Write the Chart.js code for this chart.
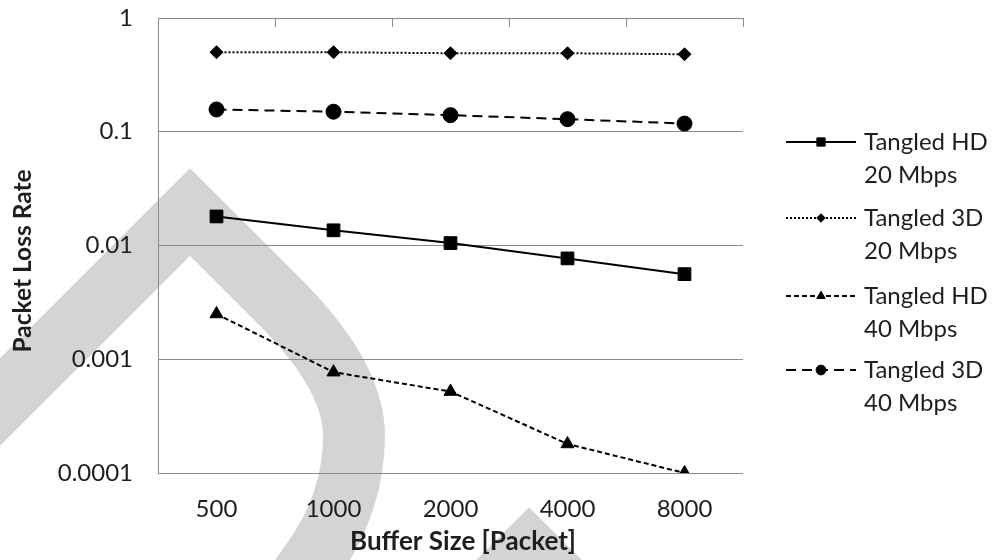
<!DOCTYPE html>
<html>
<head>
<meta charset="utf-8">
<script src="https://cdn.jsdelivr.net/npm/chart.js@4.4.1/dist/chart.umd.min.js"></script>
<style>
  html, body { margin: 0; padding: 0; background: #fff; }
  #chart { display: block; }
</style>
</head>
<body>
<canvas id="chart" width="992" height="560"></canvas>
<script>
// data
const bufferSizes = ['500', '1000', '2000', '4000', '8000'];
const yTickValues = [0.0001, 0.001, 0.01, 0.1, 1];

const hd20 = [0.018, 0.0136, 0.0105, 0.0077, 0.0056];
const threeD20 = [0.50, 0.50, 0.49, 0.49, 0.48];
const hd40 = [0.0025, 0.00077, 0.00052, 0.00018, 0.0001];
const threeD40 = [0.157, 0.150, 0.140, 0.129, 0.118];

const seriesNames = [['Tangled HD', '20 Mbps'], ['Tangled 3D', '20 Mbps'], ['Tangled HD', '40 Mbps'], ['Tangled 3D', '40 Mbps']];
const xTitle = 'Buffer Size [Packet]';
const yTitle = 'Packet Loss Rate';

const FONT = 'Lato, "Open Sans", sans-serif';
const TEXT = '#1e1e1e';
const GRID = '#8a8a8a';

// big grey watermark behind the chart
const watermark = {
    id: 'watermark',
    beforeDraw(chart) {
        const c = chart.ctx;
        c.save();
        c.fillStyle = '#fff';
        c.fillRect(0, 0, chart.width, chart.height);
        c.strokeStyle = '#d4d4d4';
        c.lineWidth = 62;
        c.lineJoin = 'miter';
        c.beginPath();
        c.moveTo(-40, 442);
        c.lineTo(190, 212);
        c.lineTo(280, 302);
        c.bezierCurveTo(322, 344, 354, 390, 354, 436);
        c.bezierCurveTo(354, 482, 338, 525, 313, 560);
        c.lineTo(285, 600);
        c.stroke();
        c.beginPath();
        c.moveTo(420, 660);
        c.lineTo(529, 551);
        c.lineTo(640, 662);
        c.stroke();
        c.restore();
    }
};

// small tick marks on the top axis line, between categories
const topTicks = {
    id: 'topTicks',
    beforeDatasetsDraw(chart) {
        const x = chart.scales.x;
        const top = chart.chartArea.top;
        const band = (x.right - x.left) / bufferSizes.length;
        const c = chart.ctx;
        c.save();
        c.strokeStyle = GRID;
        c.lineWidth = 1;
        c.beginPath();
        for (let i = 1; i <= bufferSizes.length; i++) {
            const px = Math.round(x.left + band * i) + 0.5;
            c.moveTo(px, top);
            c.lineTo(px, top + 9);
        }
        c.stroke();
        c.restore();
    }
};

// axis titles, placed a bit off-centre like the original
const axisTitles = {
    id: 'axisTitles',
    afterDraw(chart) {
        const c = chart.ctx;
        c.save();
        c.fillStyle = TEXT;
        c.textAlign = 'center';
        c.textBaseline = 'middle';
        c.font = 'bold 26px ' + FONT;
        c.fillText(xTitle, 463, 542);
        c.translate(23, 261);
        c.rotate(-Math.PI / 2);
        c.font = 'bold 24.5px ' + FONT;
        c.fillText(yTitle, 0, 0);
        c.restore();
    }
};

// legend on the right, two text lines per entry
const sideLegend = {
    id: 'sideLegend',
    afterDraw(chart) {
        const c = chart.ctx;
        const x0 = 786, x1 = 856, tx = 864;
        const rows = [142, 218, 296, 370];
        chart.data.datasets.forEach((ds, i) => {
            const y = rows[i];
            c.save();
            c.strokeStyle = ds.borderColor;
            c.lineWidth = ds.borderWidth;
            c.setLineDash(ds.borderDash || []);
            c.beginPath();
            c.moveTo(x0, y);
            c.lineTo(x1, y);
            c.stroke();
            c.setLineDash([]);
            c.fillStyle = ds.pointBackgroundColor;
            c.strokeStyle = ds.pointBorderColor;
            c.lineWidth = 1;
            Chart.helpers.drawPoint(c, { pointStyle: ds.pointStyle, radius: ds.pointRadius * 0.65, rotation: 0, borderWidth: 1 }, (x0 + x1) / 2, y);
            c.fillStyle = TEXT;
            c.font = '24px ' + FONT;
            c.textBaseline = 'middle';
            c.textAlign = 'left';
            c.fillText(seriesNames[i][0], tx, y);
            c.fillText(seriesNames[i][1], tx, y + 33);
            c.restore();
        });
    }
};

function series(data, style, radius, dash) {
    return {
        data: data,
        borderColor: '#000',
        backgroundColor: '#000',
        borderWidth: 2,
        borderDash: dash,
        pointStyle: style,
        pointRadius: radius,
        pointHoverRadius: radius,
        pointBackgroundColor: '#000',
        pointBorderColor: '#000',
        pointBorderWidth: 1,
        tension: 0,
        fill: false
    };
}

new Chart(document.getElementById('chart').getContext('2d'), {
    type: 'line',
    data: {
        labels: bufferSizes,
        datasets: [
            series(hd20, 'rect', 9, []),
            series(threeD20, 'rectRot', 6.5, [2, 2]),
            series(hd40, 'triangle', 7.5, [5, 3]),
            series(threeD40, 'circle', 7.5, [10, 6])
        ]
    },
    options: {
        responsive: false,
        animation: false,
        devicePixelRatio: 1,
        layout: { padding: { top: 18, right: 249, left: 0, bottom: 0 } },
        plugins: {
            legend: { display: false },
            tooltip: { enabled: false }
        },
        scales: {
            x: {
                type: 'category',
                offset: true,
                grid: { display: false, drawTicks: false },
                border: { display: false },
                ticks: { color: TEXT, font: { family: FONT, size: 24 }, padding: 22, maxRotation: 0 },
                afterFit(scale) {
                    scale.height = 87;
                    scale.paddingLeft = 0;
                    scale.paddingRight = 0;
                }
            },
            y: {
                type: 'logarithmic',
                min: 0.0001,
                max: 1,
                grid: { color: GRID, lineWidth: 1, drawTicks: false },
                border: { display: true, color: GRID, width: 1 },
                afterBuildTicks(scale) { scale.ticks = yTickValues.map(v => ({ value: v })); },
                ticks: {
                    color: TEXT,
                    font: { family: FONT, size: 24 },
                    padding: 25,
                    callback: v => String(v)
                },
                afterFit(scale) {
                    scale.width = 158;
                    scale.paddingTop = 0;
                    scale.paddingBottom = 0;
                }
            }
        }
    },
    plugins: [watermark, topTicks, axisTitles, sideLegend]
});
</script>
</body>
</html>
